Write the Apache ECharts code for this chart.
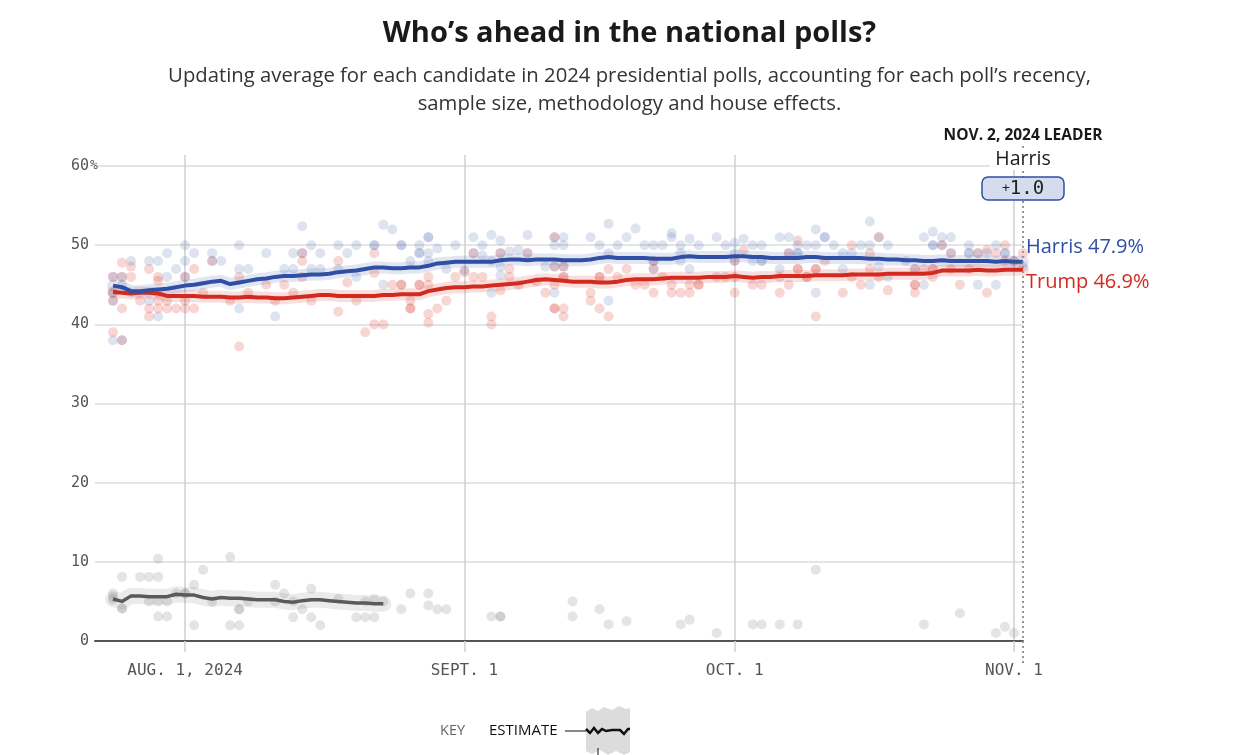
<!DOCTYPE html>
<html><head><meta charset="utf-8">
<script src="https://cdn.jsdelivr.net/npm/echarts@6/dist/echarts.min.js"></script>
<style>html,body{margin:0;padding:0;background:#fff}#chart{width:1259px;height:755px}</style>
</head><body><div id="chart"></div>
<script>
// ---------- DATA ----------
const axisStart = '2024-07-22', axisEnd = '2024-11-02';
const tickDates = ['2024-08-01', '2024-09-01', '2024-10-01', '2024-11-01'];
const tickLabels = ['AUG. 1, 2024', 'SEPT. 1', 'OCT. 1', 'NOV. 1'];
const avgStart = '2024-07-24';
const harrisAvg = [
  44.9, 44.7, 44.2, 44.2, 44.3, 44.4, 44.5, 44.7, 44.9, 45.0,
  45.2, 45.4, 45.5, 45.1, 45.3, 45.5, 45.7, 45.8, 46.0, 46.1,
  46.1, 46.2, 46.3, 46.3, 46.4, 46.6, 46.7, 46.8, 47.0, 47.2,
  47.2, 47.1, 47.1, 47.2, 47.2, 47.4, 47.7, 47.8, 47.9, 47.9,
  47.9, 47.9, 47.9, 48.1, 48.2, 48.2, 48.1, 48.2, 48.2, 48.2,
  48.1, 48.1, 48.1, 48.2, 48.4, 48.5, 48.4, 48.4, 48.4, 48.4,
  48.3, 48.3, 48.3, 48.5, 48.6, 48.5, 48.5, 48.5, 48.5, 48.6,
  48.6, 48.5, 48.5, 48.4, 48.4, 48.4, 48.4, 48.5, 48.5, 48.4,
  48.4, 48.4, 48.4, 48.4, 48.3, 48.3, 48.2, 48.2, 48.1, 48.1,
  48.0, 48.0, 48.1, 48.0, 48.0, 48.0, 48.0, 48.0, 47.9, 48.0,
  47.9, 47.9];
const trumpAvg = [
  44.1, 44.0, 43.9, 44.0, 44.0, 43.9, 43.6, 43.6, 43.6, 43.6,
  43.5, 43.5, 43.5, 43.4, 43.4, 43.5, 43.4, 43.4, 43.3, 43.3,
  43.4, 43.5, 43.6, 43.7, 43.7, 43.6, 43.6, 43.6, 43.6, 43.6,
  43.7, 43.7, 43.8, 43.8, 43.8, 44.2, 44.4, 44.6, 44.7, 44.7,
  44.8, 44.8, 44.9, 45.0, 45.1, 45.2, 45.4, 45.6, 45.7, 45.6,
  45.5, 45.4, 45.4, 45.4, 45.3, 45.3, 45.4, 45.6, 45.7, 45.7,
  45.7, 45.8, 45.9, 45.9, 45.9, 45.9, 46.0, 46.0, 46.0, 46.1,
  46.0, 45.9, 46.0, 46.0, 46.1, 46.1, 46.1, 46.1, 46.2, 46.2,
  46.2, 46.2, 46.3, 46.3, 46.3, 46.3, 46.4, 46.4, 46.4, 46.4,
  46.4, 46.5, 46.8, 46.8, 46.8, 46.8, 46.9, 46.8, 46.8, 46.9,
  46.9, 46.9];
const otherAvg = [
  5.3, 5.0, 5.7, 5.7, 5.6, 5.6, 5.6, 5.9, 5.8, 5.8,
  5.5, 5.3, 5.5, 5.4, 5.4, 5.3, 5.2, 5.2, 5.2, 5.0,
  4.9, 5.1, 5.2, 5.2, 5.1, 5.0, 4.9, 4.8, 4.8, 4.7,
  4.7];
// poll rows: [MM-DD, value, value, ...]
const harrisPolls = [
  ['07-24', 43, 38, 46, 44], ['07-25', 38, 45, 46], ['07-26', 48], ['07-28', 48, 43], ['07-29', 48, 41],
  ['07-30', 49, 46], ['07-31', 47], ['08-01', 50, 48, 46], ['08-02', 49], ['08-04', 49, 48], ['08-05', 48],
  ['08-07', 50, 47, 42], ['08-08', 47], ['08-10', 49], ['08-11', 41], ['08-12', 47], ['08-13', 49, 47],
  ['08-14', 49, 52.4], ['08-15', 50, 47], ['08-16', 49, 47], ['08-18', 50, 47], ['08-19', 49], ['08-20', 50, 46],
  ['08-22', 50, 50], ['08-23', 52.6, 45], ['08-24', 52], ['08-25', 50, 50], ['08-26', 48], ['08-27', 50, 49, 49],
  ['08-28', 51, 51, 49, 48], ['08-29', 49.6], ['08-30', 47], ['08-31', 50], ['09-01', 46.8], ['09-02', 51, 49],
  ['09-03', 50, 48.7], ['09-04', 51.3, 48, 44], ['09-05', 50.6, 49, 47.3, 46.2], ['09-06', 49.2], ['09-07', 49.4],
  ['09-08', 51.3, 49], ['09-10', 47.3], ['09-11', 51, 50, 47.3, 44], ['09-12', 51, 50, 47.3], ['09-15', 51],
  ['09-16', 50], ['09-17', 52.7, 49, 43], ['09-18', 50], ['09-19', 51], ['09-20', 52.1], ['09-21', 50],
  ['09-22', 50, 48, 47], ['09-23', 50], ['09-24', 51.5, 51], ['09-25', 50, 49, 48], ['09-26', 50.8, 47],
  ['09-27', 50], ['09-29', 51], ['09-30', 50], ['10-01', 50.3, 49, 48], ['10-02', 50.8], ['10-03', 50, 48],
  ['10-04', 50, 48, 48], ['10-06', 51, 47], ['10-07', 51, 49], ['10-08', 50, 49, 49], ['10-09', 50],
  ['10-10', 52, 50, 44], ['10-11', 51, 51], ['10-12', 50], ['10-13', 49, 47], ['10-14', 49], ['10-15', 50],
  ['10-16', 53, 50, 45], ['10-17', 51, 47.3], ['10-18', 50, 46], ['10-20', 48], ['10-21', 47], ['10-22', 51, 45],
  ['10-23', 51.7, 50, 50], ['10-24', 51, 50], ['10-25', 51, 49], ['10-27', 50, 49, 49], ['10-28', 49, 45],
  ['10-29', 49], ['10-30', 50, 45], ['10-31', 49, 49], ['11-01', 48], ['11-02', 47.3]
];
const trumpPolls = [
  ['07-24', 39, 46, 44, 43], ['07-25', 47.8, 42, 46, 38], ['07-26', 47.3, 46], ['07-27', 43], ['07-28', 47, 42, 41],
  ['07-29', 44, 42, 43, 46, 45.5], ['07-30', 42, 43], ['07-31', 42], ['08-01', 42, 43, 46], ['08-02', 47, 42],
  ['08-03', 44], ['08-04', 48], ['08-06', 43], ['08-07', 37.2, 46], ['08-08', 44], ['08-10', 45], ['08-11', 43],
  ['08-12', 45], ['08-13', 44], ['08-14', 49, 48, 46], ['08-15', 43], ['08-18', 48, 41.6], ['08-19', 45.3],
  ['08-20', 43], ['08-21', 39], ['08-22', 40, 46.5, 49], ['08-23', 40], ['08-24', 45], ['08-25', 45, 45],
  ['08-26', 42, 42, 43], ['08-27', 45, 45], ['08-28', 46, 45, 41.3, 40.2], ['08-29', 42], ['08-30', 43],
  ['08-31', 46], ['09-01', 46.6], ['09-02', 49, 46], ['09-03', 46], ['09-04', 41, 40], ['09-05', 49, 44.3],
  ['09-06', 47, 46], ['09-07', 45], ['09-08', 49], ['09-09', 45.4], ['09-10', 44], ['09-11', 51, 47.3, 45, 42, 42],
  ['09-12', 47.3, 46, 46, 42, 41], ['09-15', 44, 43], ['09-16', 46, 46, 42], ['09-17', 47, 41], ['09-18', 46],
  ['09-19', 47], ['09-20', 45], ['09-21', 45], ['09-22', 48, 47, 44], ['09-23', 46], ['09-24', 45, 44],
  ['09-25', 44], ['09-26', 45, 44], ['09-27', 45, 45], ['09-29', 46], ['09-30', 46], ['10-01', 48, 46, 44],
  ['10-02', 49.4], ['10-03', 45], ['10-04', 45], ['10-06', 46, 44], ['10-07', 49, 45], ['10-08', 50.6, 47, 47],
  ['10-09', 46, 46], ['10-10', 47, 47, 41], ['10-11', 48], ['10-13', 44], ['10-14', 50, 46], ['10-15', 45],
  ['10-16', 49, 47], ['10-17', 51, 46], ['10-18', 44.3], ['10-21', 47, 45, 45, 44], ['10-22', 47],
  ['10-23', 47, 47, 46], ['10-24', 50], ['10-25', 49, 47], ['10-26', 45], ['10-27', 47], ['10-28', 49],
  ['10-29', 49.4, 44], ['10-30', 49], ['10-31', 50, 48], ['11-01', 48], ['11-02', 49]
];
const otherPolls = [
  ['07-24', 6, 5.5, 5.2], ['07-25', 8.1, 4.1, 4.1], ['07-27', 8.1], ['07-28', 8.1, 5], ['07-29', 8.1, 10.4, 5, 3.1],
  ['07-30', 5, 3.1], ['07-31', 6], ['08-01', 6, 6], ['08-02', 7.1, 2], ['08-03', 9], ['08-04', 5], ['08-06', 10.6, 2],
  ['08-07', 2, 4, 4], ['08-08', 5], ['08-11', 7.1, 5], ['08-12', 6], ['08-13', 5, 3], ['08-14', 4], ['08-15', 6.6, 3],
  ['08-16', 2], ['08-18', 5.3], ['08-20', 3], ['08-21', 3, 5], ['08-22', 3, 5.3], ['08-23', 5], ['08-25', 4],
  ['08-26', 6], ['08-28', 6, 4.5], ['08-29', 4], ['08-30', 4], ['09-04', 3.1], ['09-05', 3.1, 3.1],
  ['09-13', 5, 3.1], ['09-16', 4], ['09-17', 2.1], ['09-19', 2.5], ['09-25', 2.1], ['09-26', 2.7], ['09-29', 1],
  ['10-03', 2.1], ['10-04', 2.1], ['10-06', 2.1], ['10-08', 2.1], ['10-10', 9], ['10-22', 2.1], ['10-26', 3.5],
  ['10-30', 1], ['10-31', 1.8], ['11-01', 1]
];

// ---------- BUILD ----------
function iso(d) { return d.toISOString().slice(0, 10); }
const dates = [];
for (let d = new Date(axisStart + 'T00:00:00Z'); iso(d) <= axisEnd; d.setUTCDate(d.getUTCDate() + 1)) dates.push(iso(d));
const startIdx = dates.indexOf(avgStart);
const toLine = arr => arr.map((v, i) => [dates[startIdx + i], v]);
const toPoints = rows => {
  const out = [];
  rows.forEach(r => { for (let k = 1; k < r.length; k++) out.push(['2024-' + r[0], r[k]]); });
  return out;
};
const isTick = (idx, val) => tickDates.indexOf(val) >= 0;

const BLUE = '#2f4fa4', RED = '#d32a1f', GRAY = '#5a5a5a';
const SANS = '"Open Sans", Lato, sans-serif';
const MONO = '"DejaVu Sans Mono", "Liberation Mono", monospace';

const chart = echarts.init(document.getElementById('chart'), null, { renderer: 'canvas' });

function band(name, data, color, width) {
  return { name, type: 'line', data, symbol: 'none', silent: true, z: 1,
    lineStyle: { color, width, cap: 'round', join: 'round' } };
}
function dots(name, data, color) {
  return { name, type: 'scatter', data, symbolSize: 10, silent: true, z: 2,
    itemStyle: { color } };
}
function line(name, data, color, width, endLabel) {
  return { name, type: 'line', data, symbol: 'none', silent: true, z: 3,
    lineStyle: { color, width, join: 'round' }, endLabel };
}

chart.setOption({
  animation: false,
  title: [
    { text: 'Who’s ahead in the national polls?', left: 'center', top: 14,
      textStyle: { fontFamily: SANS, fontSize: 29, fontWeight: 'bold', color: '#1a1a1a' } },
    { text: 'Updating average for each candidate in 2024 presidential polls, accounting for each poll’s recency,\nsample size, methodology and house effects.',
      left: 'center', top: 57,
      textStyle: { fontFamily: SANS, fontSize: 20.3, fontWeight: 'normal', color: '#333', lineHeight: 28, align: 'center' } }
  ],
  grid: { left: 95, right: 236, top: 155, bottom: 114 },
  xAxis: {
    type: 'category', data: dates, boundaryGap: false,
    axisLine: { lineStyle: { color: '#555', width: 2 } },
    axisTick: { show: true, interval: isTick, length: 11, lineStyle: { color: '#cfcfcf', width: 1.5 } },
    axisLabel: { interval: isTick, margin: 22, fontFamily: MONO, fontSize: 16, color: '#555',
      formatter: v => tickLabels[tickDates.indexOf(v)] || '' },
    splitLine: { show: true, interval: isTick, lineStyle: { color: '#cfcfcf', width: 1.5 } }
  },
  yAxis: {
    type: 'value', min: 0, max: 61.4, interval: 10,
    axisLine: { show: false }, axisTick: { show: false },
    axisLabel: { showMaxLabel: false, margin: -4, fontFamily: MONO, fontSize: 15, color: '#555',
      formatter: v => v === 60 ? '{n|60}{p|%}' : '{n|' + v + '}{p|}',
      rich: { n: { fontFamily: MONO, fontSize: 15, color: '#555' },
              p: { fontFamily: MONO, fontSize: 13, color: '#555', width: 10, align: 'left' } } },
    splitLine: { lineStyle: { color: ['#dcdcdc', '#dcdcdc', '#dcdcdc', '#dcdcdc', '#dcdcdc', '#dcdcdc', '#dcdcdc', 'rgba(0,0,0,0)'], width: 1.5 } }
  },
  series: [
    band('Other band', toLine(otherAvg), 'rgba(0,0,0,0.08)', 16),
    band('Trump band', toLine(trumpAvg), 'rgba(211,42,31,0.15)', 12),
    band('Harris band', toLine(harrisAvg), 'rgba(47,79,164,0.14)', 12),
    dots('Other polls', toPoints(otherPolls), 'rgba(120,120,120,0.25)'),
    dots('Trump polls', toPoints(trumpPolls), 'rgba(211,42,31,0.24)'),
    dots('Harris polls', toPoints(harrisPolls), 'rgba(47,79,164,0.2)'),
    line('Other', toLine(otherAvg), GRAY, 3.5),
    line('Trump', toLine(trumpAvg), RED, 4,
      { show: true, offset: [-5, 13], color: RED, fontFamily: SANS, fontSize: 20,
        formatter: p => 'Trump ' + p.value[1].toFixed(1) + '%' }),
    line('Harris', toLine(harrisAvg), BLUE, 4,
      { show: true, offset: [-5, -15], color: BLUE, fontFamily: SANS, fontSize: 20,
        formatter: p => 'Harris ' + p.value[1].toFixed(1) + '%' })
  ]
});

// ---------- ANNOTATIONS ----------
const xEnd = chart.convertToPixel({ xAxisIndex: 0 }, dates.length - 1);
const hLast = harrisAvg[harrisAvg.length - 1], tLast = trumpAvg[trumpAvg.length - 1];
const leader = hLast >= tLast ? 'Harris' : 'Trump';
const margin = Math.abs(hLast - tLast).toFixed(1);
chart.setOption({
  graphic: [
    { type: 'line', silent: true, z: 10, shape: { x1: xEnd, y1: 146, x2: xEnd, y2: 664 },
      style: { stroke: '#999', lineWidth: 2, lineDash: [2, 3] } },
    { type: 'text', z: 11, x: xEnd, y: 136, style: { text: 'NOV. 2, 2024 LEADER', fontFamily: SANS, fontSize: 15.5, fontWeight: 'bold', fill: '#1a1a1a', align: 'center', verticalAlign: 'middle' } },
    { type: 'rect', z: 11, shape: { x: xEnd - 33, y: 148, width: 66, height: 22 }, style: { fill: '#fff' } },
    { type: 'text', z: 12, x: xEnd, y: 159, style: { text: leader, fontFamily: SANS, fontSize: 19.5, fill: '#1a1a1a', align: 'center', verticalAlign: 'middle' } },
    { type: 'rect', z: 11, shape: { x: xEnd - 41, y: 177, width: 82, height: 23, r: 6 },
      style: { fill: '#d5dcee', stroke: BLUE, lineWidth: 1.5 } },
    { type: 'text', z: 12, x: xEnd, y: 189, style: {
        text: '{s|+}{b|' + margin + '}', align: 'center', verticalAlign: 'middle',
        rich: { s: { fontFamily: MONO, fontSize: 13, fill: '#222' }, b: { fontFamily: MONO, fontSize: 19, fill: '#222' } } } },
    // key
    { type: 'text', x: 440, y: 731, style: { text: 'KEY', fontFamily: SANS, fontSize: 14.5, fill: '#666', verticalAlign: 'middle' } },
    { type: 'text', x: 489, y: 731, style: { text: 'ESTIMATE', fontFamily: SANS, fontSize: 15, fill: '#111', verticalAlign: 'middle' } },
    { type: 'polygon', shape: { points: [[586, 712], [592, 708], [598, 711], [604, 707], [612, 710], [619, 706], [626, 709], [630, 708], [630, 752], [624, 755], [616, 751], [608, 755], [600, 750], [592, 754], [586, 751]] },
      style: { fill: '#dcdcdc' } },
    { type: 'line', shape: { x1: 565, y1: 731, x2: 586, y2: 731 }, style: { stroke: '#111', lineWidth: 1 } },
    { type: 'polyline', shape: { points: [[586, 729], [590, 733], [594, 728], [598, 733], [602, 729], [606, 731], [612, 730], [620, 730], [624, 734], [628, 729], [630, 729]] },
      style: { stroke: '#111', lineWidth: 2.5, fill: null } },
    { type: 'line', shape: { x1: 598, y1: 748, x2: 598, y2: 755 }, style: { stroke: '#111', lineWidth: 1 } }
  ]
});
</script></body></html>
